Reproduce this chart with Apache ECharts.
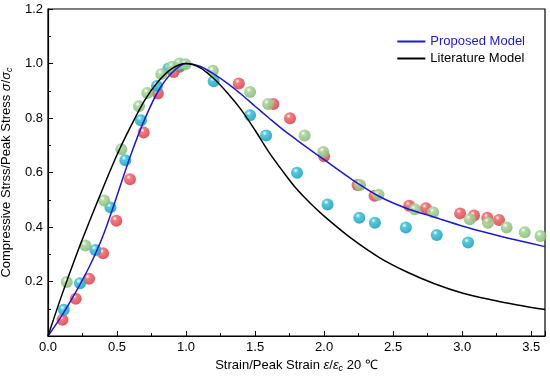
<!DOCTYPE html>
<html>
<head>
<meta charset="utf-8">
<script src="https://cdn.jsdelivr.net/npm/echarts@6/dist/echarts.min.js"></script>
<style>html,body{margin:0;padding:0;background:#fff}#c{width:550px;height:382px}</style>
</head>
<body>
<div id="c"></div>
<script>
// Experimental points [strain ratio, stress ratio]
const redPoints = [[0.105,0.06],[0.201,0.137],[0.297,0.21],[0.399,0.304],[0.495,0.423],[0.594,0.575],[0.693,0.747],[0.796,0.89],[0.91,0.969],[0.953,0.988],[1.382,0.927],[1.633,0.851],[1.753,0.799],[2.0,0.66],[2.242,0.554],[2.365,0.515],[2.616,0.478],[2.737,0.469],[2.985,0.45],[3.086,0.442],[3.182,0.434],[3.267,0.426]];
const cyanPoints = [[0.114,0.096],[0.232,0.194],[0.343,0.316],[0.452,0.472],[0.56,0.645],[0.673,0.792],[0.789,0.917],[0.873,0.982],[0.97,0.995],[1.2,0.935],[1.464,0.81],[1.58,0.736],[1.804,0.599],[2.025,0.483],[2.255,0.434],[2.368,0.416],[2.592,0.398],[2.816,0.371],[3.043,0.343]];
const greenPoints = [[0.136,0.198],[0.271,0.332],[0.406,0.497],[0.531,0.685],[0.659,0.843],[0.719,0.892],[0.821,0.961],[0.90,0.988],[0.953,1.0],[0.996,0.997],[1.194,0.973],[1.464,0.895],[1.594,0.851],[1.859,0.736],[1.994,0.675],[2.26,0.554],[2.394,0.518],[2.657,0.465],[2.79,0.454],[3.055,0.428],[3.187,0.416],[3.322,0.398],[3.453,0.381],[3.568,0.367]];
// Model curves
const proposedCurve = [[0,0],[0.1,0.075],[0.2,0.16],[0.3,0.255],[0.4,0.37],[0.5,0.515],[0.6,0.665],[0.7,0.795],[0.8,0.9],[0.9,0.967],[1.0,1.0],[1.1,0.99],[1.2,0.962],[1.3,0.927],[1.4,0.887],[1.5,0.843],[1.6,0.8],[1.7,0.758],[1.8,0.72],[1.9,0.683],[2.0,0.647],[2.2,0.575],[2.4,0.512],[2.6,0.468],[2.8,0.436],[3.0,0.404],[3.2,0.376],[3.4,0.351],[3.6,0.328]];
const literatureCurve = [[0,0],[0.1,0.15],[0.2,0.29],[0.3,0.42],[0.4,0.545],[0.5,0.665],[0.6,0.77],[0.7,0.865],[0.8,0.935],[0.9,0.982],[1.0,1.0],[1.1,0.985],[1.2,0.945],[1.3,0.892],[1.4,0.83],[1.5,0.755],[1.6,0.675],[1.7,0.605],[1.8,0.54],[1.9,0.487],[2.0,0.44],[2.2,0.357],[2.4,0.288],[2.6,0.235],[2.8,0.192],[3.0,0.158],[3.2,0.134],[3.4,0.114],[3.6,0.097]];
const xTicks = {min:0, max:3.6, interval:0.5};
const yTicks = {min:0, max:1.2, interval:0.2};

const FONT = 'Liberation Sans, Arial, sans-serif';
function ball(base, dark){
  return {type:'radial', x:0.38, y:0.32, r:0.7, colorStops:[
    {offset:0, color:'#ffffff'},{offset:0.28, color:base},{offset:1, color:dark}]};
}
function pts(name, data, base, dark){
  return {name:name, type:'scatter', data:data, symbolSize:12, z:2,
    itemStyle:{color:ball(base,dark), opacity:0.9}, silent:true};
}
const chart = echarts.init(document.getElementById('c'), null, {renderer:'canvas'});
chart.setOption({
  animation:false,
  backgroundColor:'#fff',
  grid:{left:48, right:5, top:9, bottom:46, show:true, borderColor:'#000', borderWidth:1.2,
    containLabel:false, outerBoundsMode:'none'},
  legend:{
    right:20, top:30, orient:'vertical', itemGap:4, itemWidth:28, itemHeight:2, icon:'rect',
    textStyle:{fontFamily:FONT, fontSize:13, color:'#000'},
    data:[{name:'Proposed Model', textStyle:{color:'#1a1ad6'}},{name:'Literature Model', textStyle:{color:'#000'}}]
  },
  xAxis:{
    type:'value', min:xTicks.min, max:xTicks.max, interval:xTicks.interval,
    name:'Strain/Peak Strain {i|ε}/{i|ε}{sub|c} 20 ℃', nameLocation:'middle', nameGap:19,
    nameTextStyle:{fontFamily:FONT, fontSize:13, color:'#000',
      rich:{i:{fontStyle:'italic', fontFamily:FONT, fontSize:13}, sub:{fontStyle:'italic', fontFamily:FONT, fontSize:9, padding:[6,0,0,0]}}},
    axisLine:{lineStyle:{color:'#000', width:1.2}},
    axisTick:{inside:true, length:5, lineStyle:{color:'#000'}},
    minorTick:{show:true, splitNumber:2, length:3, lineStyle:{color:'#000'}},
    splitLine:{show:false},
    axisLabel:{fontFamily:FONT, fontSize:13, color:'#000', margin:5, showMaxLabel:false,
      formatter:v=>v.toFixed(1)}
  },
  yAxis:{
    type:'value', min:yTicks.min, max:yTicks.max, interval:yTicks.interval,
    name:'Compressive Strss/Peak Stress {i|σ}/{i|σ}{sub|c}', nameLocation:'middle', nameGap:24, nameRotate:90,
    nameTextStyle:{fontFamily:FONT, fontSize:13, color:'#000',
      rich:{i:{fontStyle:'italic', fontFamily:FONT, fontSize:13}, sub:{fontStyle:'italic', fontFamily:FONT, fontSize:9, padding:[6,0,0,0]}}},
    axisLine:{lineStyle:{color:'#000', width:1.2}},
    axisTick:{inside:true, length:5, lineStyle:{color:'#000'}},
    minorTick:{show:true, splitNumber:2, length:3, lineStyle:{color:'#000'}},
    splitLine:{show:false},
    axisLabel:{fontFamily:FONT, fontSize:13, color:'#000', margin:5, showMinLabel:false,
      formatter:v=>v.toFixed(1)}
  },
  series:[
    pts('Set 1', redPoints, '#f26a6e', '#d9474d'),
    pts('Set 2', cyanPoints, '#3fc4d9', '#1fa3bb'),
    pts('Set 3', greenPoints, '#a9d59b', '#86bd77'),
    {name:'Proposed Model', type:'line', data:proposedCurve, smooth:0.3, symbol:'none', z:5,
      lineStyle:{color:'#1a1ad6', width:1.5}, itemStyle:{color:'#1a1ad6'}},
    {name:'Literature Model', type:'line', data:literatureCurve, smooth:0.3, symbol:'none', z:5,
      lineStyle:{color:'#000', width:1.5}, itemStyle:{color:'#000'}}
  ]
});
</script>
</body>
</html>
